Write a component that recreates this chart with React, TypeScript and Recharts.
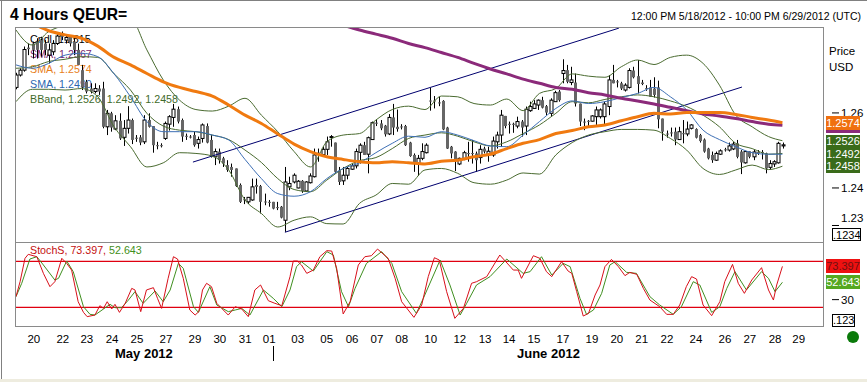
import { ComposedChart, Bar, Line, XAxis, YAxis, ReferenceLine } from "recharts";

// candle prices, one per 4 hour bar
const opens = [
  1.2668,1.2701,1.2714,1.2774,1.2785,1.2790,1.2794,1.2785,1.2754,1.2763,
  1.2785,1.2807,1.2794,1.2803,1.2790,1.2768,1.2714,1.2683,1.2665,1.2657,
  1.2665,1.2665,1.2563,1.2599,1.2557,1.2579,1.2535,1.2559,1.2581,1.2534,
  1.2535,1.2523,1.2581,1.2565,1.2514,1.2514,1.2532,1.2570,1.2588,1.2610,
  1.2581,1.2539,1.2537,1.2541,1.2519,1.2532,1.2565,1.2528,1.2483,1.2497,
  1.2479,1.2461,1.2456,1.2452,1.2408,1.2370,1.2363,1.2368,1.2408,1.2405,
  1.2364,1.2363,1.2363,1.2349,1.2350,1.2314,1.2403,1.2416,1.2400,1.2419,
  1.2392,1.2414,1.2430,1.2494,1.2489,1.2503,1.2535,1.2521,1.2446,1.2419,
  1.2434,1.2450,1.2459,1.2495,1.2514,1.2490,1.2529,1.2574,1.2572,1.2566,
  1.2544,1.2588,1.2563,1.2564,1.2565,1.2521,1.2488,1.2465,1.2479,1.2494,
  1.2633,1.2633,1.2628,1.2632,1.2561,1.2510,1.2497,1.2464,1.2476,1.2493,
  1.2493,1.2492,1.2481,1.2505,1.2488,1.2488,1.2523,1.2541,1.2592,1.2571,
  1.2571,1.2565,1.2577,1.2565,1.2606,1.2612,1.2621,1.2634,1.2618,1.2599,
  1.2630,1.2657,1.2705,1.2714,1.2681,1.2681,1.2625,1.2577,1.2579,1.2578,
  1.2590,1.2590,1.2590,1.2617,1.2688,1.2684,1.2679,1.2661,1.2668,1.2713,
  1.2698,1.2681,1.2666,1.2668,1.2665,1.2668,1.2585,1.2545,1.2548,1.2550,
  1.2529,1.2546,1.2544,1.2559,1.2557,1.2541,1.2529,1.2505,1.2488,1.2474,
  1.2490,1.2503,1.2501,1.2504,1.2519,1.2497,1.2467,1.2498,1.2483,1.2496,
  1.2496,1.2492,1.2455,1.2464,1.2467,1.2512,
];
const closes = [
  1.2701,1.2714,1.2769,1.2770,1.2768,1.2768,1.2768,1.2768,1.2768,1.2785,
  1.2805,1.2803,1.2801,1.2785,1.2768,1.2728,1.2668,1.2657,1.2657,1.2665,
  1.2657,1.2563,1.2599,1.2561,1.2579,1.2532,1.2559,1.2581,1.2528,1.2531,
  1.2521,1.2581,1.2563,1.2514,1.2512,1.2512,1.2572,1.2590,1.2610,1.2577,
  1.2537,1.2537,1.2536,1.2514,1.2529,1.2568,1.2521,1.2483,1.2497,1.2474,
  1.2465,1.2448,1.2448,1.2405,1.2363,1.2368,1.2375,1.2403,1.2403,1.2363,
  1.2362,1.2361,1.2345,1.2347,1.2321,1.2416,1.2412,1.2434,1.2418,1.2392,
  1.2416,1.2432,1.2488,1.2490,1.2503,1.2523,1.2537,1.2443,1.2416,1.2434,
  1.2452,1.2459,1.2497,1.2514,1.2488,1.2534,1.2574,1.2572,1.2559,1.2543,
  1.2588,1.2561,1.2557,1.2562,1.2514,1.2485,1.2467,1.2479,1.2497,1.2514,
  1.2632,1.2632,1.2626,1.2556,1.2505,1.2492,1.2474,1.2479,1.2494,1.2491,
  1.2491,1.2474,1.2503,1.2497,1.2498,1.2525,1.2541,1.2594,1.2565,1.2569,
  1.2569,1.2577,1.2561,1.2610,1.2617,1.2624,1.2634,1.2614,1.2601,1.2634,
  1.2654,1.2634,1.2713,1.2683,1.2688,1.2625,1.2577,1.2576,1.2577,1.2592,
  1.2608,1.2608,1.2624,1.2688,1.2679,1.2682,1.2665,1.2674,1.2713,1.2695,
  1.2677,1.2677,1.2665,1.2643,1.2648,1.2583,1.2550,1.2543,1.2546,1.2529,
  1.2550,1.2545,1.2557,1.2568,1.2534,1.2525,1.2497,1.2479,1.2474,1.2492,
  1.2499,1.2502,1.2512,1.2517,1.2483,1.2468,1.2497,1.2483,1.2496,1.2494,
  1.2494,1.2452,1.2465,1.2470,1.2519,1.2515,
];
const highs = [
  1.2707,1.2719,1.2777,1.2785,1.2790,1.2799,1.2803,1.2794,1.2785,1.2794,
  1.2812,1.2817,1.2808,1.2805,1.2803,1.2785,1.2728,1.2688,1.2679,1.2679,
  1.2674,1.2683,1.2608,1.2603,1.2594,1.2599,1.2581,1.2618,1.2585,1.2541,
  1.2541,1.2594,1.2599,1.2565,1.2523,1.2519,1.2577,1.2594,1.2624,1.2617,
  1.2585,1.2545,1.2541,1.2550,1.2537,1.2572,1.2572,1.2541,1.2505,1.2505,
  1.2483,1.2474,1.2465,1.2452,1.2412,1.2376,1.2376,1.2425,1.2425,1.2408,
  1.2385,1.2368,1.2363,1.2363,1.2352,1.2456,1.2430,1.2439,1.2421,1.2421,
  1.2418,1.2439,1.2505,1.2505,1.2510,1.2537,1.2541,1.2521,1.2456,1.2456,
  1.2456,1.2464,1.2505,1.2519,1.2523,1.2537,1.2577,1.2583,1.2581,1.2568,
  1.2597,1.2624,1.2609,1.2570,1.2568,1.2523,1.2492,1.2488,1.2519,1.2519,
  1.2667,1.2645,1.2643,1.2634,1.2563,1.2512,1.2498,1.2481,1.2499,1.2523,
  1.2528,1.2497,1.2514,1.2510,1.2510,1.2537,1.2550,1.2608,1.2592,1.2577,
  1.2574,1.2590,1.2581,1.2617,1.2630,1.2634,1.2636,1.2643,1.2621,1.2639,
  1.2659,1.2661,1.2743,1.2728,1.2723,1.2705,1.2625,1.2585,1.2581,1.2594,
  1.2617,1.2612,1.2630,1.2701,1.2728,1.2688,1.2683,1.2679,1.2719,1.2723,
  1.2741,1.2688,1.2674,1.2688,1.2695,1.2686,1.2585,1.2553,1.2561,1.2561,
  1.2563,1.2581,1.2577,1.2570,1.2559,1.2544,1.2532,1.2507,1.2497,1.2497,
  1.2503,1.2507,1.2521,1.2523,1.2528,1.2501,1.2499,1.2498,1.2503,1.2501,
  1.2501,1.2494,1.2474,1.2474,1.2523,1.2521,
];
const lows = [
  1.2663,1.2697,1.2710,1.2754,1.2745,1.2745,1.2750,1.2754,1.2732,1.2754,
  1.2781,1.2794,1.2785,1.2777,1.2754,1.2728,1.2661,1.2652,1.2652,1.2652,
  1.2648,1.2559,1.2541,1.2550,1.2554,1.2528,1.2512,1.2545,1.2517,1.2523,
  1.2514,1.2517,1.2561,1.2494,1.2503,1.2508,1.2528,1.2553,1.2563,1.2572,
  1.2523,1.2528,1.2532,1.2510,1.2505,1.2521,1.2519,1.2481,1.2461,1.2465,
  1.2456,1.2443,1.2430,1.2403,1.2360,1.2357,1.2357,1.2366,1.2385,1.2332,
  1.2354,1.2350,1.2343,1.2341,1.2319,1.2283,1.2394,1.2412,1.2399,1.2387,
  1.2390,1.2412,1.2428,1.2470,1.2488,1.2488,1.2510,1.2439,1.2408,1.2408,
  1.2423,1.2448,1.2452,1.2465,1.2488,1.2439,1.2528,1.2565,1.2554,1.2537,
  1.2541,1.2541,1.2550,1.2556,1.2512,1.2483,1.2443,1.2432,1.2474,1.2492,
  1.2606,1.2612,1.2618,1.2554,1.2504,1.2479,1.2445,1.2461,1.2474,1.2470,
  1.2465,1.2443,1.2465,1.2492,1.2470,1.2483,1.2505,1.2510,1.2559,1.2545,
  1.2547,1.2559,1.2537,1.2541,1.2603,1.2612,1.2608,1.2612,1.2594,1.2590,
  1.2630,1.2630,1.2679,1.2679,1.2674,1.2617,1.2565,1.2554,1.2565,1.2577,
  1.2568,1.2585,1.2570,1.2594,1.2679,1.2668,1.2661,1.2657,1.2665,1.2692,
  1.2652,1.2674,1.2659,1.2643,1.2641,1.2559,1.2526,1.2534,1.2537,1.2514,
  1.2528,1.2519,1.2538,1.2556,1.2532,1.2521,1.2494,1.2476,1.2467,1.2472,
  1.2488,1.2497,1.2497,1.2501,1.2479,1.2437,1.2465,1.2479,1.2474,1.2488,
  1.2476,1.2439,1.2448,1.2456,1.2465,1.2505,
];

// overlays, read every 4th slot, last one at the end of the candles
const lineSlots = [
  0,4,8,12,16,20,24,28,32,36,40,44,48,52,56,60,64,68,72,76,80,84,88,92,
  96,100,104,108,112,116,120,124,128,132,136,140,144,148,152,156,160,164,168,172,176,180,184,187.4,
];
const bandUpper = [
  1.2821,1.2781,1.2817,1.2834,1.2848,1.2857,1.2857,1.2852,1.2768,1.2688,1.2634,1.2609,
  1.2605,1.2618,1.2639,1.2594,1.2550,1.2497,1.2456,1.2523,1.2541,1.2545,1.2581,1.2609,
  1.2618,1.2609,1.2645,1.2643,1.2625,1.2621,1.2637,1.2606,1.2652,1.2665,1.2704,1.2698,
  1.2695,1.2723,1.2741,1.2729,1.2748,1.2754,1.2732,1.2674,1.2594,1.2563,1.2537,1.2526,
];
const bandMiddle = [
  1.2719,1.2723,1.2737,1.2743,1.2750,1.2748,1.2704,1.2661,1.2599,1.2565,1.2554,1.2550,
  1.2541,1.2529,1.2501,1.2468,1.2425,1.2396,1.2390,1.2421,1.2452,1.2473,1.2481,1.2505,
  1.2532,1.2541,1.2547,1.2538,1.2523,1.2512,1.2523,1.2545,1.2568,1.2599,1.2630,1.2627,
  1.2636,1.2643,1.2648,1.2643,1.2632,1.2617,1.2594,1.2563,1.2519,1.2505,1.2490,1.2492,
];
const bandLower = [
  1.2630,1.2663,1.2663,1.2661,1.2665,1.2643,1.2563,1.2510,1.2456,1.2467,1.2494,1.2492,
  1.2485,1.2448,1.2368,1.2332,1.2296,1.2314,1.2323,1.2305,1.2304,1.2359,1.2381,1.2412,
  1.2410,1.2448,1.2452,1.2439,1.2414,1.2410,1.2421,1.2440,1.2437,1.2488,1.2521,1.2541,
  1.2550,1.2556,1.2556,1.2554,1.2532,1.2501,1.2452,1.2436,1.2448,1.2461,1.2449,1.2458,
];
const smaBlue = [
  1.2728,1.2719,1.2732,1.2754,1.2759,1.2750,1.2704,1.2643,1.2577,1.2550,1.2550,1.2550,
  1.2541,1.2528,1.2476,1.2425,1.2385,1.2378,1.2390,1.2425,1.2452,1.2467,1.2494,1.2519,
  1.2538,1.2535,1.2550,1.2541,1.2526,1.2512,1.2510,1.2541,1.2577,1.2612,1.2632,1.2625,
  1.2630,1.2641,1.2652,1.2668,1.2643,1.2608,1.2554,1.2529,1.2510,1.2494,1.2490,1.2490,
];
// starts at lineSlots[1], comes in through the top of the panel
const smaOrange = [
  1.2839,1.2819,1.2808,1.2799,1.2778,1.2748,1.2728,1.2705,1.2683,1.2668,1.2657,
  1.2645,1.2621,1.2594,1.2572,1.2544,1.2517,1.2497,1.2483,1.2476,1.2470,1.2467,1.2470,
  1.2467,1.2464,1.2471,1.2474,1.2483,1.2490,1.2505,1.2519,1.2529,1.2545,1.2553,1.2563,
  1.2568,1.2579,1.2590,1.2599,1.2597,1.2601,1.2601,1.2601,1.2596,1.2588,1.2581,1.2574,
];
// starts at lineSlots[20]
const smaPurple = [
  1.2834,1.2821,1.2810,1.2799,1.2785,1.2774,1.2761,1.2748,1.2732,1.2717,1.2704,1.2690,
  1.2679,1.2668,1.2663,1.2654,1.2648,1.2639,1.2632,1.2624,1.2615,1.2606,1.2597,1.2592,
  1.2585,1.2577,1.2570,1.2567,
];

// stochastic, turning points of each line
const stochKSlots = [
  0,1,2.2,3,5.1,6.7,8.3,9.5,11.2,12.4,13.6,15.2,16.5,17.4,19.3,20.5,21.4,22.3,23.4,24.2,25.3,26.7,28.3,29.1,30.5,31.9,33.6,34.6,35.6,37.2,
  38.5,39.5,40.9,42.5,43.8,44.7,45.6,46.6,47.8,49.1,50.3,51.9,53.6,55.2,56.8,58.4,59.8,61.7,63.3,65,67,
  67.8,68.8,69.8,71.1,72.7,74.3,76,77.2,78.4,80,81.7,83.7,85.3,86.9,88.4,91,92.7,94.3,95.9,97.3,99.2,100.8,102.3,103.5,105.3,107.3,109.4,111.4,112.6,115.1,
  118.3,121.6,122.8,123.6,126.5,128.1,129.7,131,133.4,135,
  135.9,137.1,138.7,140,141.6,142.8,144,145.6,147.3,148.9,150.1,151.8,153.4,155,157.4,159.1,160.7,162.3,163.9,165.2,166.4,168,170.1,172.1,173.3,175.2,176.6,178.1,179.9,182.3,184,185.2,186,187.4,
];
const stochK = [
  33.9,53.4,83.9,89.1,86,64.3,46.9,53.4,83.9,77.3,68.6,27.3,13.4,7.8,9.9,22.1,18.6,27.3,17.8,23.9,13.4,25.2,44.7,42.6,14.3,42.6,45.6,31.7,18.6,57.8,
  86,83,57.8,16.5,9.9,14.3,42.6,51.3,46.9,25.2,18.6,9.9,20.8,17.8,7.8,42.6,49.1,28.6,25.2,22.1,60,
  80.4,80.4,75.2,64.3,68.6,86,93.9,93.4,70.8,11.3,27.3,75.2,86,87.3,96,83.9,57.8,27.3,16.5,6.9,23,60,84.7,81.7,40.4,5.6,18.6,51.3,53.4,60,
  88.2,68.6,68.6,57.8,87.3,83.9,66.5,60,79.5,67.3,
  64.3,40.4,8.6,12.1,36,49.1,73,82.5,73,61.3,65.6,63,44.7,29.5,20.8,10.8,10.8,23,46.9,60,56.9,23,9.1,27.3,53.4,76,51.3,38.2,55.6,71.7,42.6,29.5,49.1,73.397,
];
const stochDSlots = [
  0,1.4,3.4,5.1,6.7,9.5,10.4,12.4,14,16.5,18.1,19.3,21.4,23,24.2,25.8,27.5,29.1,31.1,34,36,37.7,39.7,40.9,43.4,44.6,47.4,49.1,51.9,53.6,55.2,57.2,60.5,62.9,65,67,
  68.6,69.8,72.7,76,77.6,79.6,81.3,82.9,85.7,89.4,91.9,94.3,97.9,99.6,103.7,106.1,108.6,110.2,112.6,115.9,120,124,125.7,128.5,131,133.8,135.5,
  137.9,139.5,141.2,143.2,145.2,146.5,149.3,151.7,155,157.4,160.7,162.7,165.6,167.2,170.1,172.1,173.8,175.8,178.6,182.3,184,185.6,187.4,
];
const stochD = [
  33.9,51.3,83,86,75.2,55.6,57.8,80.4,66.5,20.8,10.8,9.9,17.8,23.9,19.5,19.5,29.5,40.4,25.2,41.3,27.3,42.6,77.3,70.8,20.8,13.4,46.9,23,14.3,16.5,18.6,9.9,42.6,31.7,20.8,42.6,
  73,79.5,67.3,92.6,88.2,40.4,20.8,44.7,77.3,92.6,77.3,40.4,12.1,31.7,81.7,49.1,9.9,25.2,49.1,60,83,64.3,66.5,86,62.1,77.3,73,
  31.7,10.8,16.5,38.2,75.2,79.5,65.6,64.3,33.9,23,10.8,20.8,53.4,49.1,13.4,20.8,44.7,66.5,42.6,66.5,57.8,40.4,52.643,
];

// date axis
const dateTicks = [4.3,11.3,17.1,23.2,29.2,36.2,43.2,49.2,55.3,61.1,68,75,81.1,87.1,93.1,100.1,107.1,113.2,119,125,132,139,145,151,157.1,164.1,171.1,177.1,183.2,188.9];
const dateLabels = ["20","22","23","24","25","27","29","30","31","01","03","05","06","07","08","10","12","13","14","15","17","19","20","21","22","24","26","27","28","29"];

const priceTicks = [1.23, 1.24, 1.26];
const stochTicks = [0, 30];
const stochLimits = [20, 80];

// trend channel, [slot, price] at both ends
const channelUpper = [[42.7, 1.2469], [145.5, 1.2826]];
const channelLower = [[64.9, 1.2282], [175.2, 1.2669]];

const SLOT_TO_CANDLE = 0.987;
const xDomain: [number, number] = [-0.24, 195];
const priceDomain: [number, number] = [1.2256, 1.2829];
const stochDomain: [number, number] = [-5.7, 105.2];

const candleRows = opens.map((open, i) => ({
  x: i,
  open,
  close: closes[i],
  high: highs[i],
  low: lows[i],
  range: [lows[i], highs[i]],
}));

const series = (slots: number[], values: number[]) =>
  values.map((y, k) => ({ x: slots[k] * SLOT_TO_CANDLE, y }));

const Candle = (props: any) => {
  const { x, y, width, height, payload } = props;
  const perUnit = height / (payload.high - payload.low || 1);
  const up = payload.close >= payload.open;
  const bodyTop = y + (payload.high - Math.max(payload.open, payload.close)) * perUnit;
  const bodyH = Math.max(Math.abs(payload.close - payload.open) * perUnit, 1);
  const mid = Math.round(x + width / 2) + 0.5;
  return (
    <g>
      <line x1={mid} x2={mid} y1={y} y2={y + height} stroke="#000" strokeWidth={1} />
      {up ? (
        <rect x={mid - 1.5} y={bodyTop} width={3} height={bodyH} fill="#fff" stroke="#000" strokeWidth={1} />
      ) : (
        <rect x={mid - 1.5} y={bodyTop} width={3} height={bodyH} fill="#666" />
      )}
    </g>
  );
};

const PriceTick = ({ x, y, payload }: any) => (
  <g>
    <line x1={x} x2={x + 7} y1={y} y2={y} stroke="#000" />
    <text x={x + 9} y={y + 4 - (payload.value === 1.23 ? 7 : 0)} fontSize={11.5} fill="#000" fontFamily="Liberation Sans">
      {payload.value.toFixed(2)}
    </text>
  </g>
);

const StochTick = ({ x, y, payload }: any) => (
  <g>
    <line x1={x} x2={x + 7} y1={y} y2={y} stroke="#000" />
    {payload.value !== 0 && (
      <text x={x + 9} y={y + 4} fontSize={11.5} fill="#000" fontFamily="Liberation Sans">
        {payload.value}
      </text>
    )}
  </g>
);

const abs = (left: number, top: number, extra: any = {}): any => ({
  position: "absolute",
  left,
  top,
  whiteSpace: "nowrap",
  lineHeight: 1,
  ...extra,
});

const flag = (bg: string, color: string): any => ({
  width: 34,
  height: 14,
  background: bg,
  color,
  fontSize: 11,
  textAlign: "center",
  paddingTop: 2,
  boxSizing: "border-box",
});

const legendRows = [
  { text: "Cndl, 1.2515", color: "#000000" },
  { text: "SMA, 1.2567", color: "#7a2a70" },
  { text: "SMA, 1.2574", color: "#e8801a" },
  { text: "SMA, 1.2490", color: "#2a66b0" },
  { text: "BBand, 1.2526, 1.2492, 1.2458", color: "#3f6b2a" },
];

export default function App() {
  return (
    <div style={{ position: "absolute", left: 0, top: 0, width: 867, height: 382, background: "#fff", overflow: "hidden", fontFamily: "Liberation Sans" }}>
      <div style={abs(0, 0, { width: 867, height: 1, background: "#808080" })} />
      <div style={abs(1, 0, { width: 1, height: 380, background: "#808080" })} />
      <div style={abs(0, 379, { width: 867, height: 3, background: "#eeecdf" })} />

      <div style={abs(10, 7, { fontSize: 15.7, fontWeight: "bold" })}>4 Hours QEUR=</div>
      <div style={abs(631, 11, { fontSize: 10.5 })}>12:00 PM 5/18/2012 - 10:00 PM 6/29/2012 (UTC)</div>
      <div style={abs(829, 46, { fontSize: 11.5 })}>Price</div>
      <div style={abs(829, 62, { fontSize: 11.5 })}>USD</div>

      {legendRows.map((row, k) => (
        <div key={k} style={abs(30, 34 + k * 15, { fontSize: 10.7, color: row.color })}>{row.text}</div>
      ))}
      <div style={abs(30, 245, { fontSize: 10.7, color: "#c41010" })}>
        StochS, 73.397, <span style={{ color: "#3f8f20" }}>52.643</span>
      </div>

      <div style={abs(0, 27)}>
        <ComposedChart width={867} height={215} data={candleRows} margin={{ top: 0, right: 0, bottom: 0, left: 15 }}>
          <XAxis dataKey="x" type="number" domain={xDomain} allowDataOverflow hide />
          <YAxis
            orientation="right"
            width={43}
            type="number"
            domain={priceDomain}
            allowDataOverflow
            ticks={priceTicks}
            interval={0}
            axisLine={false}
            tickLine={false}
            tick={<PriceTick />}
          />
          <Bar dataKey="range" barSize={3} shape={<Candle />} isAnimationActive={false} />
          <ReferenceLine stroke="#00006e" segment={channelUpper.map(([x, y]) => ({ x, y }))} />
          <ReferenceLine stroke="#00006e" segment={channelLower.map(([x, y]) => ({ x, y }))} />
          <Line data={series(lineSlots, bandUpper)} dataKey="y" type="monotone" stroke="#4a6b30" strokeWidth={1} dot={false} isAnimationActive={false} />
          <Line data={series(lineSlots, bandMiddle)} dataKey="y" type="monotone" stroke="#4a6b30" strokeWidth={1} dot={false} isAnimationActive={false} />
          <Line data={series(lineSlots, bandLower)} dataKey="y" type="monotone" stroke="#4a6b30" strokeWidth={1} dot={false} isAnimationActive={false} />
          <Line data={series(lineSlots, smaBlue)} dataKey="y" type="monotone" stroke="#3d6fb5" strokeWidth={1} dot={false} isAnimationActive={false} />
          <Line data={series(lineSlots.slice(20), smaPurple)} dataKey="y" type="monotone" stroke="#8b2a7a" strokeWidth={3} dot={false} isAnimationActive={false} />
          <Line data={series(lineSlots.slice(1), smaOrange)} dataKey="y" type="monotone" stroke="#f07a10" strokeWidth={3} dot={false} isAnimationActive={false} />
        </ComposedChart>
      </div>

      <div style={abs(0, 242)}>
        <ComposedChart width={867} height={113} data={candleRows} margin={{ top: 0, right: 0, bottom: 0, left: 15 }}>
          <XAxis
            dataKey="x"
            type="number"
            domain={xDomain}
            allowDataOverflow
            ticks={dateTicks}
            interval={0}
            height={28}
            axisLine={false}
            tickLine={false}
            tick={{ fontSize: 11.5, fill: "#000", fontFamily: "Liberation Sans" }}
            tickFormatter={(v: number) => dateLabels[dateTicks.indexOf(v)]}
          />
          <YAxis
            orientation="right"
            width={43}
            type="number"
            domain={stochDomain}
            allowDataOverflow
            ticks={stochTicks}
            interval={0}
            axisLine={false}
            tickLine={false}
            tick={<StochTick />}
          />
          {stochLimits.map((v) => (
            <ReferenceLine key={v} y={v} stroke="#e00010" strokeWidth={1.3} />
          ))}
          <Line data={series(stochDSlots, stochD)} dataKey="y" type="linear" stroke="#3f8f20" strokeWidth={1} dot={false} isAnimationActive={false} />
          <Line data={series(stochKSlots, stochK)} dataKey="y" type="linear" stroke="#d8101a" strokeWidth={1} dot={false} isAnimationActive={false} />
        </ComposedChart>
      </div>

      {/* panel frames */}
      <div style={abs(15, 27, { width: 809, height: 300, border: "1px solid #8a8a8a", boxSizing: "border-box", pointerEvents: "none" })} />
      <div style={abs(15, 242, { width: 809, height: 1, background: "#8a8a8a" })} />

      <div style={abs(115, 347, { fontSize: 13, fontWeight: "bold" })}>May 2012</div>
      <div style={abs(517, 347, { fontSize: 13, fontWeight: "bold" })}>June 2012</div>
      <div style={abs(273, 346, { width: 1, height: 15, background: "#000" })} />

      {/* last value flags on the right */}
      <div style={abs(826, 116, flag("#f0700f", "#fff"))}>1.2574</div>
      <div style={abs(826, 130, { width: 34, height: 3, background: "#8b2a7a" })} />
      <div style={abs(826, 135, { ...flag("#3a6b1a", "#fff"), height: 38, lineHeight: "12.6px", paddingTop: 0 })}>
        1.2526<br />1.2492<br />1.2458
      </div>
      <div style={abs(832, 228, { width: 29, height: 13, border: "1px solid #000", background: "#fff", fontSize: 11, textAlign: "center", paddingTop: 1, boxSizing: "border-box" })}>.1234</div>
      <div style={abs(826, 259, flag("#ee1111", "#701010"))}>73.397</div>
      <div style={abs(826, 275, flag("#55a820", "#fff"))}>52.643</div>
      <div style={abs(832, 314, { width: 23, height: 13, border: "1px solid #000", background: "#fff", fontSize: 11, textAlign: "center", boxSizing: "border-box" })}>.123</div>
      <div style={abs(847, 331, { width: 12, height: 12, borderRadius: "50%", background: "#0a7a0a" })} />
    </div>
  );
}
